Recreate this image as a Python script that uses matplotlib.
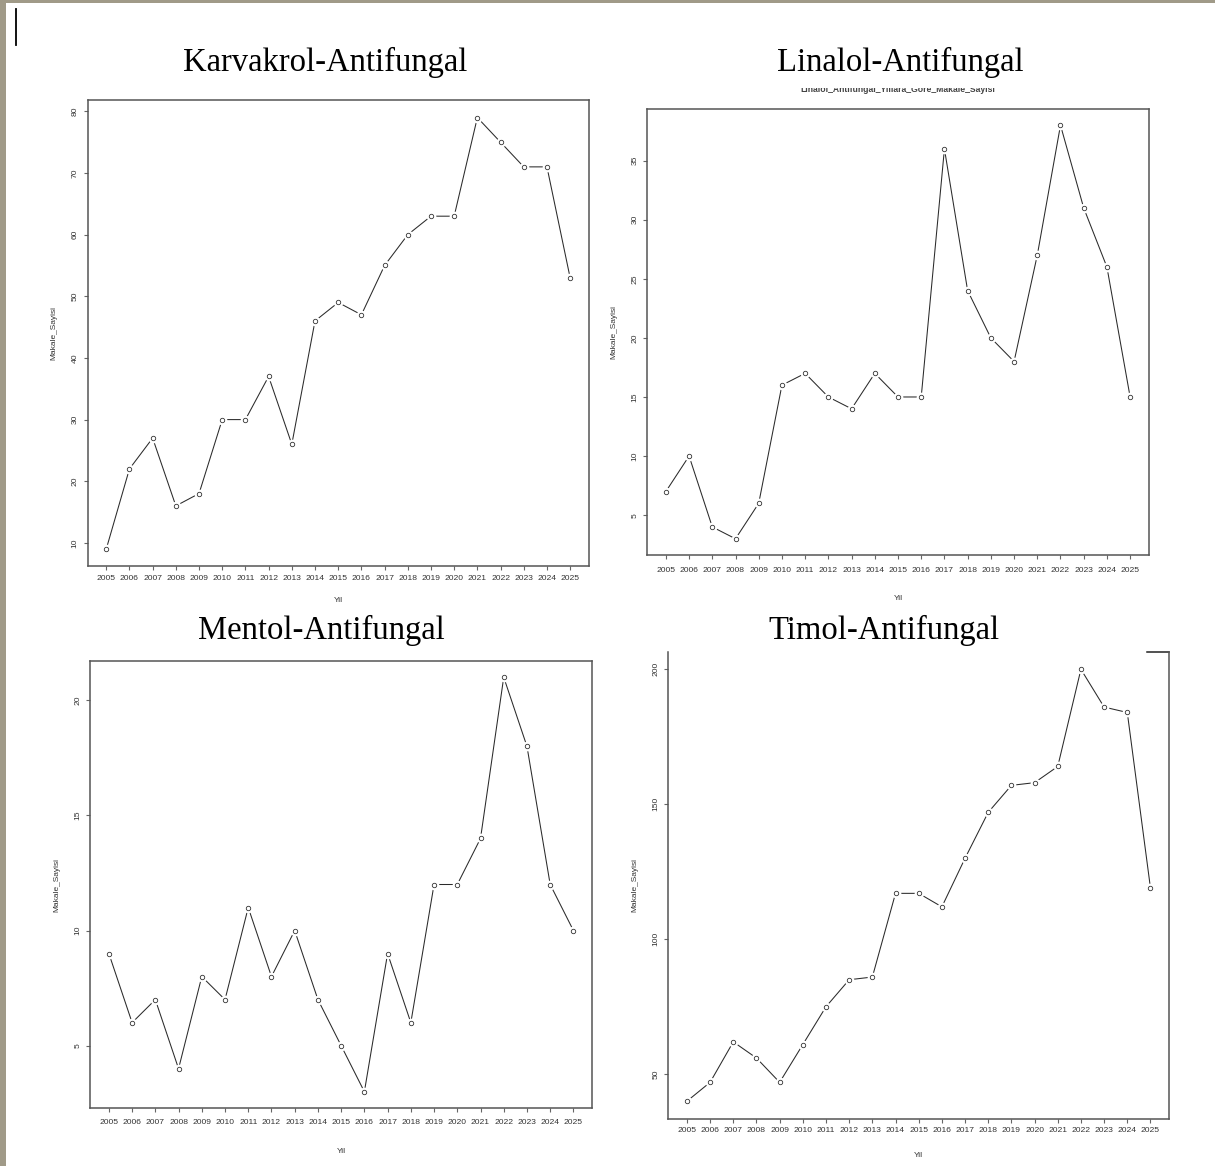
import matplotlib
matplotlib.use("Agg")
import matplotlib.pyplot as plt
from matplotlib.ticker import MultipleLocator
from matplotlib.patches import Rectangle
from matplotlib.lines import Line2D

plt.rcParams["font.family"] = ["Liberation Sans", "DejaVu Sans"]

# data
years = list(range(2005, 2026))
karvakrol = [9, 22, 27, 16, 18, 30, 30, 37, 26, 46, 49, 47, 55, 60, 63, 63, 79, 75, 71, 71, 53]
linalol = [7, 10, 4, 3, 6, 16, 17, 15, 14, 17, 15, 15, 36, 24, 20, 18, 27, 38, 31, 26, 15]
mentol = [9, 6, 7, 4, 8, 7, 11, 8, 10, 7, 5, 3, 9, 6, 12, 12, 14, 21, 18, 12, 10]
timol = [40, 47, 62, 56, 47, 61, 75, 85, 86, 117, 117, 112, 130, 147, 157, 158, 164, 200, 186, 184, 119]

titles = ["Karvakrol-Antifungal", "Linalol-Antifungal", "Mentol-Antifungal", "Timol-Antifungal"]
y_steps = [10, 5, 5, 50]
x_label = "Yil"
y_label = "Makale_Sayisi"
linalol_subtitle = "Linalol_Antifungal_Yillara_Gore_Makale_Sayisi"

W, H = 1215, 1166
fig = plt.figure(figsize=(W / 100, H / 100), dpi=100)
fig.patch.set_facecolor("white")


def px_rect(left, top, right, bottom):
    return [left / W, 1 - bottom / H, (right - left) / W, (bottom - top) / H]


def r_panel(box, values, step, tick_off, xlab_off):
    left, top, right, bottom = box
    ax = fig.add_axes(px_rect(left, top, right, bottom))
    ax.plot(years, values, color="#2a2a2a", lw=0.75, zorder=2)
    # white halo gives the R type="b" gap around each point
    ax.plot(years, values, "o", ms=6, mfc="white", mec="white", zorder=3)
    ax.plot(years, values, "o", ms=3.2, mfc="white", mec="#333333", mew=0.6, zorder=4)
    ax.margins(x=0.04, y=0.04)
    ax.set_xticks(years)
    ax.set_xticklabels([str(y) for y in years])
    ax.yaxis.set_major_locator(MultipleLocator(step))
    for s in ax.spines.values():
        s.set_color("#555555")
        s.set_linewidth(1.1)
    ax.tick_params(axis="both", direction="out", length=3, width=0.8, color="#666666",
                   labelsize=6.1, labelcolor="#333333")
    ax.tick_params(axis="x", pad=(tick_off - 10) * 0.72)
    ax.tick_params(axis="y", pad=3.5, labelrotation=90)
    for lab in ax.get_yticklabels():
        lab.set_verticalalignment("center")
    ax.set_xlabel(x_label, fontsize=6, color="#333333")
    ax.set_ylabel(y_label, fontsize=6, color="#333333")
    ax.xaxis.set_label_coords(0.5, -xlab_off / (bottom - top))
    ax.yaxis.set_label_coords(-30 / (right - left), 0.5)
    return ax


ax1 = r_panel((87.7, 100.3, 588.7, 566.3), karvakrol, y_steps[0], 14.5, 31)
ax2 = r_panel((647.3, 108.7, 1148.7, 555.3), linalol, y_steps[1], 17.4, 40)
ax3 = r_panel((90.3, 660.7, 592, 1108.3), mentol, y_steps[2], 17, 40)
ax4 = r_panel((668.4, 652, 1169, 1118.5), timol, y_steps[3], 14.5, 33.5)

# the timol box top is mostly hidden under its caption
ax4.spines["top"].set_visible(False)
ax4.add_line(Line2D([0.956, 1.0], [1.0, 1.0], transform=ax4.transAxes, color="#222222",
                    lw=1.1, clip_on=False))

# half-hidden R main title of the linalol plot
fig.text(898 / W, 1 - 89.5 / H, linalol_subtitle, ha="center", va="center",
         fontsize=6.2, fontweight="bold", color="#444444", zorder=3)
fig.add_artist(Rectangle((640 / W, 1 - 88.3 / H), 520 / W, 12 / H, transform=fig.transFigure,
                         facecolor="white", edgecolor="none", zorder=4))

title_pos = [(325.5, 62), (900, 62), (321, 630), (884, 630)]
for (tx, ty), t in zip(title_pos, titles):
    fig.text(tx / W, 1 - ty / H, t, ha="center", va="center", fontsize=23.5,
             family="Liberation Serif", color="black", zorder=5)

# page border and text cursor from the screenshot
fig.add_artist(Rectangle((0, 0), 6 / W, 1, transform=fig.transFigure,
                         facecolor="#a09a88", edgecolor="none", zorder=6))
fig.add_artist(Rectangle((0, 1 - 2.5 / H), 1, 2.5 / H, transform=fig.transFigure,
                         facecolor="#a09a88", edgecolor="none", zorder=6))
fig.add_artist(Line2D([16 / W, 16 / W], [1 - 9 / H, 1 - 45 / H], transform=fig.transFigure,
                      color="black", lw=1.3, zorder=6))

fig.savefig("out.png", dpi=100)
